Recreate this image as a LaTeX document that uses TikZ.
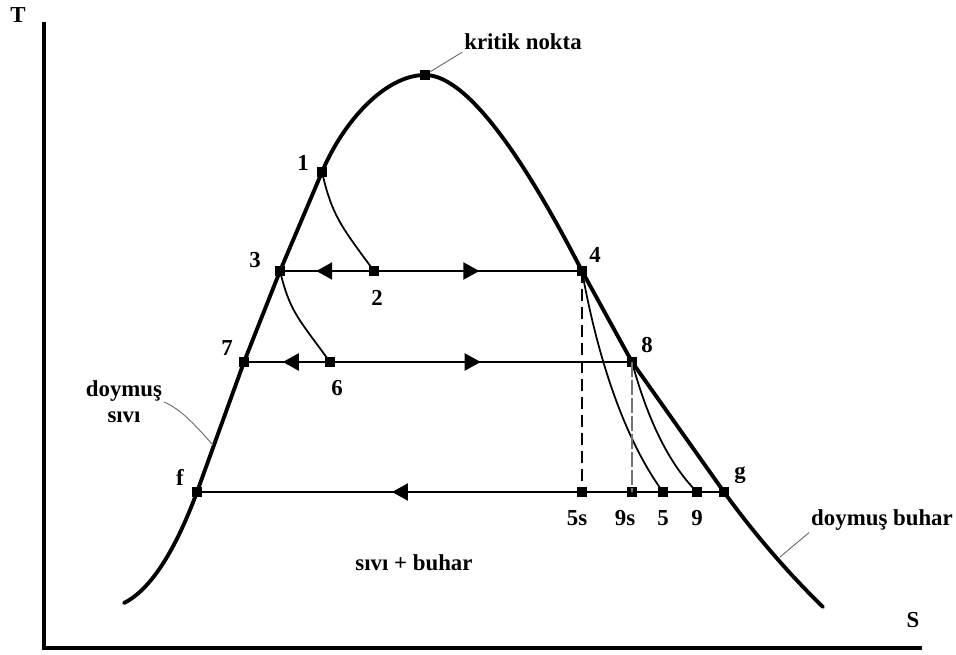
\documentclass[tikz,border=0pt]{standalone}
\usepackage{fontspec}
\setmainfont{Liberation Serif}
\usetikzlibrary{arrows.meta,decorations.markings}

\tikzset{
  dot/.style={rectangle,fill=black,inner sep=0pt,minimum size=0.2cm},
  lbl/.style={font=\fontsize{13}{15}\selectfont\bfseries,inner sep=1pt},
  dome/.style={line width=2.2pt,line join=round,line cap=round},
  iso/.style={line width=1.3pt},
  proc/.style={line width=1pt},
  leader/.style={line width=0.5pt,black!60},
  flowL/.style={postaction={decorate,decoration={markings,
      mark=at position #1 with {\arrowreversed{Triangle[length=0.32cm,width=0.34cm]}}}}},
  flowR/.style={postaction={decorate,decoration={markings,
      mark=at position #1 with {\arrow{Triangle[length=0.32cm,width=0.34cm]}}}}}
}

\begin{document}
\begin{tikzpicture}[x=0.02cm,y=-0.02cm]
  \useasboundingbox (0,0) rectangle (956,655);

  % axes
  \draw[line width=2.8pt] (44,22) -- (44,648) -- (922,648);
  \node[lbl] (T) at (18,15) {T};
  \node[lbl] (S) at (913,620) {S};

  % state points
  \node[dot] (crit) at (425,75) {};
  \node[dot] (p1) at (322,172) {};
  \node[dot] (p2) at (374,271) {};
  \node[dot] (p3) at (280,271) {};
  \node[dot] (p4) at (582,271) {};
  \node[dot] (p6) at (330,362) {};
  \node[dot] (p7) at (244,362) {};
  \node[dot] (p8) at (632,362) {};
  \node[dot] (pf) at (197,492) {};
  \node[dot] (pg) at (724,492) {};
  \node[dot] (p5s) at (582,492) {};
  \node[dot] (p9s) at (632,492) {};
  \node[dot] (p5) at (663,492) {};
  \node[dot] (p9) at (697,492) {};

  % saturation dome
  \draw[dome] (124,603) .. controls (160,585) and (185,524) .. (pf.center)
    -- (p7.center) -- (p3.center) -- (p1.center)
    .. controls (343,122) and (385,75) .. (crit.center)
    .. controls (470,75) and (530,170) .. (p4.center)
    -- (p8.center) -- (pg.center)
    .. controls (755,535) and (790,575) .. (823,607);

  % constant pressure lines
  \draw[iso,flowL=0.12,flowR=0.66] (p3.center) -- (p4.center);
  \draw[iso,flowL=0.10,flowR=0.61] (p7.center) -- (p8.center);
  \draw[iso,flowL=0.37] (pf.center) -- (pg.center);

  % throttling and expansion
  \draw[proc] (p1.center) .. controls (332,215) and (340,225) .. (p2.center);
  \draw[proc] (p3.center) .. controls (290,312) and (298,318) .. (p6.center);
  \draw[proc] (p4.center) .. controls (598,360) and (625,440) .. (p5.center);
  \draw[proc] (p8.center) .. controls (645,410) and (665,460) .. (p9.center);
  \draw[line width=1.5pt,dash pattern=on 0.24cm off 0.12cm] (p4.center) -- (p5s.center);
  \draw[line width=0.8pt,black!55,dash pattern=on 0.3cm off 0.06cm] (p8.center) -- (p9s.center);

  % point labels
  \node[lbl] (l1) at (303,163) {1};
  \node[lbl] (l2) at (377,298) {2};
  \node[lbl] (l3) at (255,260) {3};
  \node[lbl] (l4) at (595,255) {4};
  \node[lbl] (l6) at (337,388) {6};
  \node[lbl] (l7) at (227,348) {7};
  \node[lbl] (l8) at (647,345) {8};
  \node[lbl] (lf) at (180,477) {f};
  \node[lbl] (lg) at (740,475) {g};
  \node[lbl] (l5s) at (577,518) {5s};
  \node[lbl] (l9s) at (625,518) {9s};
  \node[lbl] (l5) at (663,518) {5};
  \node[lbl] (l9) at (697,518) {9};

  % region names
  \node[lbl] (kritik) at (523,42) {kritik nokta};
  \node[lbl,align=center] (dsivi) at (124,402) {doymuş\\sıvı};
  \node[lbl] (dbuhar) at (882,520) {doymuş buhar};
  \node[lbl] (karisim) at (414,563) {sıvı + buhar};

  \draw[leader] (crit) -- (kritik.south west);
  \draw[leader] (dsivi.east) .. controls (182,410) and (195,425) .. (213,445);
  \draw[leader] (780,557) -- (dbuhar.south west);
\end{tikzpicture}
\end{document}
